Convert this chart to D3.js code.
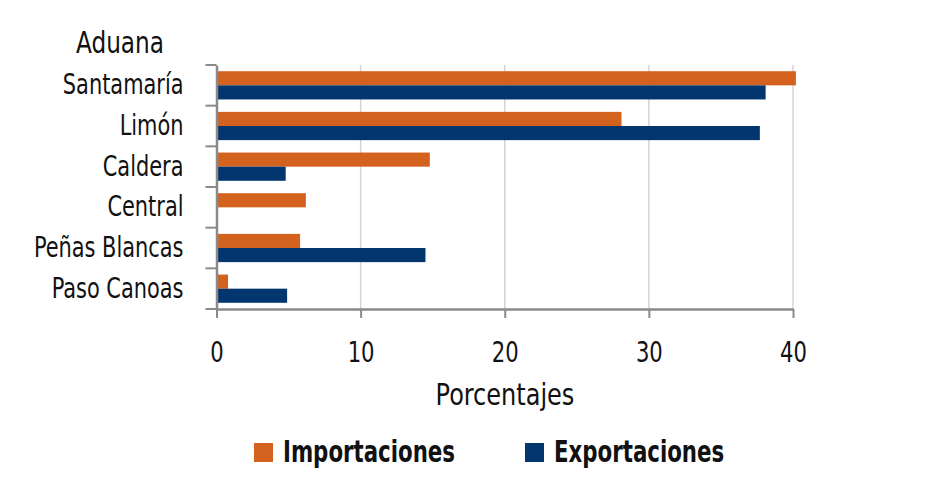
<!DOCTYPE html>
<html>
<head>
<meta charset="utf-8">
<script src="https://cdn.jsdelivr.net/npm/d3@7"></script>
<style>
	body { margin: 0; background: #fff; }
	svg text { font-family: "DejaVu Sans Condensed", "DejaVu Sans", sans-serif; font-stretch: condensed; fill: #111; }
</style>
</head>
<body>
<svg id="chart" width="938" height="484"></svg>
<script>
// datos (porcentajes por aduana)
const categories = ["Santamaría", "Limón", "Caldera", "Central", "Peñas Blancas", "Paso Canoas"];
const importaciones = [40.2, 28.1, 14.8, 6.2, 5.8, 0.8];
const exportaciones = [38.1, 37.7, 4.8, 0, 14.5, 4.9];
const xTicks = [0, 10, 20, 30, 40];
const seriesNames = ["Importaciones", "Exportaciones"];

const colors = { Importaciones: "#d4621f", Exportaciones: "#03366f" };
const margin = { left: 216.5, right: 145, top: 65, bottom: 175 };
const width = 938, height = 484;

const svg = d3.select("#chart");

// narrow the glyphs horizontally, keeping the anchor x in place
function condense(sel, k){
	sel.each(function(){
		const t = d3.select(this);
		const x = +(t.attr("x") || 0);
		t.attr("x", x / k).attr("transform", "scale(" + k + ",1)");
	});
}

const xScale = d3.scaleLinear().domain([0, 40]).range([margin.left, width - margin.right]);
const yScale = d3.scaleBand().domain(categories)
	.range([margin.top, height - margin.bottom])
	.paddingInner(0).paddingOuter(0);
const ySub = d3.scaleBand().domain(seriesNames)
	.range([0, yScale.bandwidth()])
	.paddingInner(0).paddingOuter(0.44);

// grid lines
svg.append("g").attr("class", "grid")
	.selectAll("line").data(xTicks.slice(1)).enter().append("line")
	.attr("x1", function(d){ return xScale(d); })
	.attr("x2", function(d){ return xScale(d); })
	.attr("y1", yScale.range()[0])
	.attr("y2", yScale.range()[1])
	.attr("stroke", "#d4d4d4").attr("stroke-width", 1.5);

// bars
const rows = categories.map(function(c, i){
	return [
		{ cat: c, name: "Importaciones", amount: importaciones[i] },
		{ cat: c, name: "Exportaciones", amount: exportaciones[i] }
	];
}).flat().filter(function(d){ return d.amount > 0; });

svg.append("g").selectAll("rect").data(rows).enter().append("rect")
	.attr("x", xScale(0))
	.attr("y", function(d){ return yScale(d.cat) + ySub(d.name); })
	.attr("width", function(d){ return xScale(d.amount) - xScale(0); })
	.attr("height", ySub.bandwidth())
	.attr("fill", function(d){ return colors[d.name]; });

// x axis
const xAxis = svg.append("g").attr("class", "xAxis")
	.attr("transform", "translate(" + [0, yScale.range()[1]] + ")")
	.call(d3.axisBottom(xScale).tickValues(xTicks).tickSize(9).tickPadding(24).tickSizeOuter(0));
xAxis.selectAll("text").attr("font-size", 28).attr("font-family", null).call(condense, 0.84);

// y axis: labels at centers, tick marks at band edges
const yAxis = svg.append("g").attr("class", "yAxis")
	.attr("transform", "translate(" + [xScale(0), 0] + ")")
	.call(d3.axisLeft(yScale).tickSize(0).tickPadding(33).tickSizeOuter(0));
yAxis.selectAll("text").attr("font-size", 28).attr("font-family", null).call(condense, 0.83);
const edges = categories.map(function(c){ return yScale(c); }).concat([yScale.range()[1]]);
yAxis.selectAll(".edge").data(edges).enter().append("line").attr("class", "edge")
	.attr("x1", -11).attr("x2", 0)
	.attr("y1", function(d){ return d; }).attr("y2", function(d){ return d; });

svg.selectAll(".xAxis path, .yAxis path, .xAxis line, .yAxis line")
	.attr("stroke", "#8a8a8a").attr("stroke-width", 2);
svg.selectAll(".domain").attr("stroke-width", 2.5);

// titles
svg.append("text").attr("x", 120).attr("y", 53).attr("text-anchor", "middle")
	.attr("font-size", 30).attr("font-weight", 500).text("Aduana").call(condense, 0.86);
svg.append("text").attr("x", 505).attr("y", 405).attr("text-anchor", "middle")
	.attr("font-size", 30).text("Porcentajes").call(condense, 0.89);

// legend
const legendX = [254, 525];
const legend = svg.append("g").selectAll("g").data(seriesNames).enter().append("g")
	.attr("transform", function(d, i){ return "translate(" + [legendX[i], 443] + ")"; });
legend.append("rect").attr("width", 19).attr("height", 19)
	.attr("fill", function(d){ return colors[d]; });
legend.append("text").attr("x", 29).attr("y", 19)
	.attr("font-size", 30).attr("font-weight", "bold")
	.text(function(d){ return d; }).call(condense, 0.79);
</script>
</body>
</html>
